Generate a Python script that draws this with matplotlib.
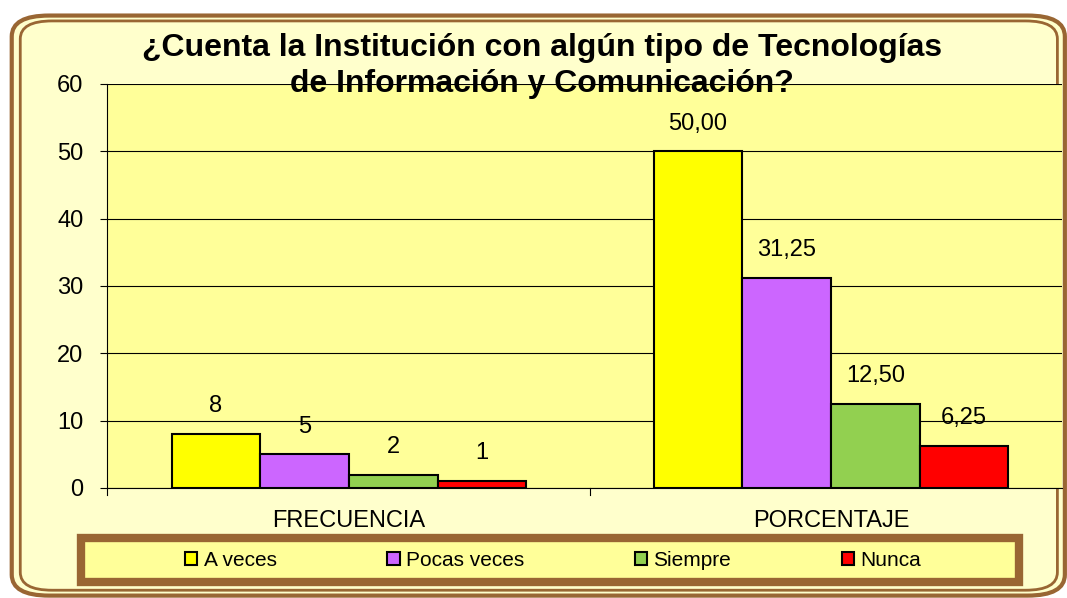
import numpy as np
import matplotlib.pyplot as plt
from matplotlib.patches import FancyBboxPatch, Rectangle

categorias = ['FRECUENCIA', 'PORCENTAJE']
series = ['A veces', 'Pocas veces', 'Siempre', 'Nunca']
valores = {
    'A veces': [8, 50.00],
    'Pocas veces': [5, 31.25],
    'Siempre': [2, 12.50],
    'Nunca': [1, 6.25],
}
etiquetas = {
    'A veces': ['8', '50,00'],
    'Pocas veces': ['5', '31,25'],
    'Siempre': ['2', '12,50'],
    'Nunca': ['1', '6,25'],
}
colores = ['#FFFF00', '#CC66FF', '#92D050', '#FF0000']

plt.rcParams['font.family'] = ['Liberation Sans', 'DejaVu Sans']

fig = plt.figure(figsize=(10.67, 5.98), dpi=100)
fig.patch.set_facecolor('white')

# marco exterior
marco = FancyBboxPatch((0.011, 0.004), 0.987, 0.970, boxstyle='round,pad=0,rounding_size=0.035',
                       transform=fig.transFigure, facecolor='#FFFFCC', edgecolor='#996633', lw=3,
                       zorder=-3)
fig.patches.append(marco)
marco2 = FancyBboxPatch((0.019, 0.013), 0.972, 0.952, boxstyle='round,pad=0,rounding_size=0.03',
                        transform=fig.transFigure, facecolor='none', edgecolor='#996633', lw=2,
                        zorder=-2)
fig.patches.append(marco2)

ax = fig.add_axes([107/1067, 1 - 488/598, (1062 - 107)/1067, (488 - 84)/598], zorder=0)
ax.set_facecolor('#FFFF99')

x = np.arange(len(categorias))
ancho = 0.184
for i, s in enumerate(series):
    pos = x + (i - 1.5) * ancho
    barras = ax.bar(pos, valores[s], ancho, color=colores[i], edgecolor='black', lw=1.5,
                    label=s, zorder=3)
    for b, t in zip(barras, etiquetas[s]):
        ax.annotate(t, (b.get_x() + b.get_width() / 2, b.get_height()), xytext=(0, 20),
                    textcoords='offset points', ha='center', va='center', fontsize=17)

ax.set_xlim(-0.502, 1.479)
ax.set_ylim(0, 60)
ax.set_yticks(range(0, 61, 10))
ax.yaxis.grid(True, color='black', lw=0.8)
ax.set_axisbelow(True)
ax.tick_params(axis='y', labelsize=17, length=5, width=0.8, direction='out', pad=12)
ax.set_xticks(x)
ax.set_xticklabels(categorias, fontsize=17)
ax.tick_params(axis='x', length=0, pad=16)
for xv in [-0.502, 0.5]:
    ax.plot([xv, xv], [0, -1.0], color='black', lw=0.8, clip_on=False)
for sp in ['top', 'right']:
    ax.spines[sp].set_visible(False)
ax.spines['left'].set_linewidth(0.8)
ax.spines['bottom'].set_linewidth(0.8)

fig.text(542/1067, 1 - 66/598, '¿Cuenta la Institución con algún tipo de Tecnologías\nde Información y Comunicación?',
         ha='center', va='center', fontsize=23, fontweight='bold', linespacing=1.28, zorder=5)

# leyenda
caja = Rectangle((81/1067, 1 - 582/598), (1019 - 81)/1067, (582 - 538)/598, transform=fig.transFigure,
                 facecolor='#FFFF99', edgecolor='#996633', lw=6, zorder=1)
fig.patches.append(caja)
leg = fig.legend(loc='center', bbox_to_anchor=(553/1067, 1 - 560/598), ncol=4, frameon=False,
                 fontsize=15, handlelength=0.6, handleheight=0.6, handletextpad=0.3,
                 columnspacing=5.3)
for h in leg.legend_handles:
    h.set_linewidth(1.5)

fig.savefig('out.png', dpi=100)
